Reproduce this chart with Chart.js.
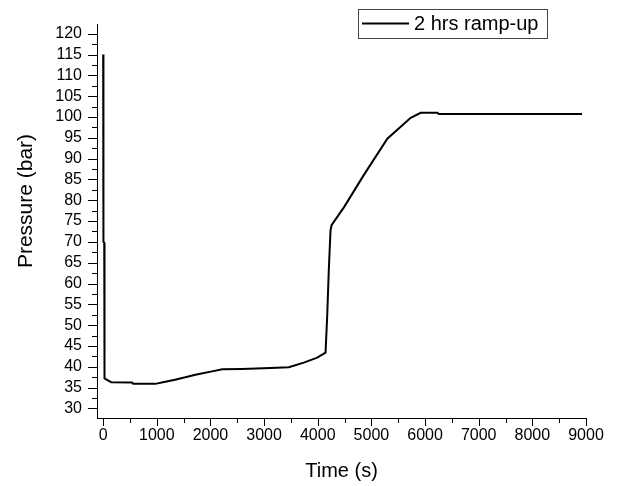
<!DOCTYPE html>
<html>
<head>
<meta charset="utf-8">
<script src="https://cdn.jsdelivr.net/npm/chart.js@4.4.1/dist/chart.umd.min.js"></script>
<style>
  html, body { margin: 0; padding: 0; background: #fff; }
  #wrap { width: 630px; height: 486px; }
</style>
</head>
<body>
<div id="wrap"><canvas id="pressureChart" width="630" height="486"></canvas></div>
<script>
// data
const timeS = [0, 5, 20, 25, 80, 150, 540, 560, 970, 1160, 1340, 1720, 2030, 2220, 2590, 3120, 3460, 3740, 3990, 4145, 4177, 4206, 4238, 4257, 4487, 4860, 5297, 5732, 5919, 6230, 6260, 8925];
const pressureBar = [115, 70, 69.8, 37.2, 36.8, 36.3, 36.2, 35.9, 35.9, 36.4, 36.9, 38.1, 38.9, 39.4, 39.5, 39.7, 39.9, 41.0, 42.2, 43.4, 52.5, 63.4, 72.8, 74.0, 78.3, 86.1, 94.8, 99.8, 101.0, 101.0, 100.7, 100.7];
const seriesLabel = '2 hrs ramp-up';
const xTitle = 'Time (s)';
const yTitle = 'Pressure (bar)';

const xTicks = [0, 1000, 2000, 3000, 4000, 5000, 6000, 7000, 8000, 9000];
const yTicks = [30, 35, 40, 45, 50, 55, 60, 65, 70, 75, 80, 85, 90, 95, 100, 105, 110, 115, 120];

const FONT = 'Liberation Sans, Arial, sans-serif';

const decorations = {
    id: 'decorations',
    afterDraw(chart) {
        const ctx = chart.ctx;
        const xs = chart.scales.x, ys = chart.scales.y;
        ctx.save();
        ctx.strokeStyle = '#000';
        ctx.lineWidth = 1;
        ctx.beginPath();
        xTicks.forEach((v, i) => {
            const px = Math.round(xs.getPixelForValue(v)) + 0.5;
            ctx.moveTo(px, xs.top); ctx.lineTo(px, xs.top + 8);
            if (i < xTicks.length - 1) {
                const mx = Math.round(xs.getPixelForValue((v + xTicks[i + 1]) / 2)) + 0.5;
                ctx.moveTo(mx, xs.top); ctx.lineTo(mx, xs.top + 5);
            }
        });
        yTicks.forEach((v, i) => {
            const py = Math.round(ys.getPixelForValue(v)) + 0.5;
            ctx.moveTo(ys.right, py); ctx.lineTo(ys.right - 9, py);
            if (i < yTicks.length - 1) {
                const my = Math.round(ys.getPixelForValue((v + yTicks[i + 1]) / 2)) + 0.5;
                ctx.moveTo(ys.right, my); ctx.lineTo(ys.right - 5, my);
            }
        });
        ctx.stroke();

        // y title sits a bit above the axis middle, as in the original
        ctx.fillStyle = '#000';
        ctx.save();
        ctx.translate(32, 201);
        ctx.rotate(-Math.PI / 2);
        ctx.font = '21px ' + FONT;
        ctx.textAlign = 'center';
        ctx.textBaseline = 'alphabetic';
        ctx.fillText(yTitle, 0, 0);
        ctx.restore();

        // boxed legend
        ctx.strokeStyle = '#444';
        ctx.strokeRect(358.5, 9.5, 189, 29);
        ctx.strokeStyle = '#000';
        ctx.lineWidth = 2;
        ctx.beginPath();
        ctx.moveTo(362, 23.5); ctx.lineTo(409, 23.5);
        ctx.stroke();
        ctx.font = '20px ' + FONT;
        ctx.textBaseline = 'middle';
        ctx.fillText(chart.data.datasets[0].label, 414, 24);
        ctx.restore();
    }
};

new Chart(document.getElementById('pressureChart').getContext('2d'), {
    type: 'line',
    data: {
        datasets: [{
            label: seriesLabel,
            data: timeS.map((t, i) => ({ x: t, y: pressureBar[i] })),
            borderColor: '#000',
            borderWidth: 2,
            pointRadius: 0,
            tension: 0,
            fill: false
        }]
    },
    options: {
        responsive: false,
        animation: false,
        layout: { padding: { top: 17, right: 44, left: 0, bottom: 0 } },
        plugins: {
            legend: { display: false },
            tooltip: { enabled: false }
        },
        scales: {
            x: {
                type: 'linear',
                min: -115,
                max: 9000,
                afterBuildTicks: s => { s.ticks = xTicks.map(v => ({ value: v })); },
                afterFit: s => { s.height = 68; },
                grid: { display: false, drawTicks: false },
                border: { display: true, color: '#000', width: 1 },
                ticks: {
                    color: '#000', font: { family: FONT, size: 16 }, padding: 8,
                    maxRotation: 0, autoSkip: false, callback: v => String(v)
                },
                title: { display: true, text: xTitle, color: '#000', font: { family: FONT, size: 20 }, padding: { top: 0, bottom: 3 } }
            },
            y: {
                type: 'linear',
                min: 27.7,
                max: 122.2,
                afterBuildTicks: s => { s.ticks = yTicks.map(v => ({ value: v })); },
                afterFit: s => { s.width = 97; },
                grid: { display: false, drawTicks: false },
                border: { display: true, color: '#000', width: 1 },
                ticks: {
                    color: '#000', font: { family: FONT, size: 16 }, padding: 15,
                    autoSkip: false, callback: v => String(v)
                },
                title: { display: false }
            }
        }
    },
    plugins: [decorations]
});
</script>
</body>
</html>
